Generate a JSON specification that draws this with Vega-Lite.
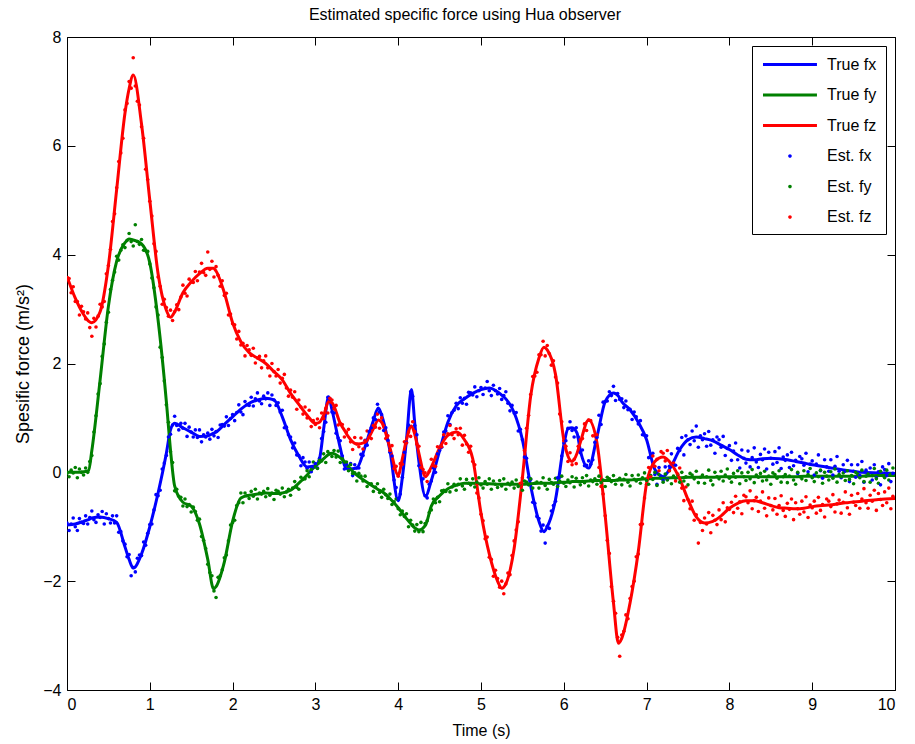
{
  "$schema": "https://vega.github.io/schema/vega-lite/v6.json",
  "width": 828,
  "height": 653,
  "autosize": {"type": "none"},
  "padding": {"left": 67, "top": 37, "right": 20, "bottom": 54},
  "background": "white",
  "title": {"text": "Estimated specific force using Hua observer", "font": "Liberation Sans", "fontSize": 16, "fontWeight": "normal", "color": "black", "offset": 6, "dx": -16},
  "config": {
    "view": {"stroke": "black", "strokeWidth": 1},
    "axis": {"grid": false, "domain": false, "tickColor": "black", "tickSize": -8, "tickWidth": 1, "labelFont": "Liberation Sans", "labelFontSize": 16, "labelColor": "black", "titleFont": "Liberation Sans", "titleFontWeight": "normal", "titleColor": "black"}
  },
  "datasets": {
    "truth": [
      {"t":0.0,"fx":-0.97,"fy":0.0,"fz":3.6},{"t":0.1,"fx":-0.95,"fy":0.0,"fz":3.2},{"t":0.2,"fx":-0.9,"fy":0.01,"fz":2.9},{"t":0.26,"fx":-0.87,"fy":0.03,"fz":2.78},{"t":0.3,"fx":-0.84,"fy":0.4,"fz":2.75},{"t":0.4,"fx":-0.82,"fy":1.7,"fz":2.95},{"t":0.5,"fx":-0.85,"fy":3.05,"fz":3.8},{"t":0.6,"fx":-0.92,"fy":3.88,"fz":5.2},{"t":0.7,"fx":-1.37,"fy":4.22,"fz":6.6},{"t":0.75,"fx":-1.6,"fy":4.29,"fz":7.05},{"t":0.8,"fx":-1.76,"fy":4.27,"fz":7.3},{"t":0.9,"fx":-1.5,"fy":4.2,"fz":6.4},
      {"t":1.0,"fx":-1.0,"fy":3.85,"fz":5.0},{"t":1.1,"fx":-0.38,"fy":2.8,"fz":3.65},{"t":1.2,"fx":0.35,"fy":1.3,"fz":2.98},{"t":1.25,"fx":0.78,"fy":0.41,"fz":2.85},{"t":1.3,"fx":0.9,"fy":-0.25,"fz":2.95},{"t":1.4,"fx":0.82,"fy":-0.55,"fz":3.3},{"t":1.5,"fx":0.74,"fy":-0.62,"fz":3.5},{"t":1.6,"fx":0.66,"fy":-0.95,"fz":3.65},{"t":1.7,"fx":0.67,"fy":-1.6,"fz":3.75},{"t":1.77,"fx":0.72,"fy":-2.14,"fz":3.75},{"t":1.8,"fx":0.74,"fy":-2.1,"fz":3.7},{"t":1.9,"fx":0.88,"fy":-1.65,"fz":3.3},
      {"t":2.0,"fx":1.02,"fy":-0.9,"fz":2.75},{"t":2.1,"fx":1.16,"fy":-0.47,"fz":2.4},{"t":2.2,"fx":1.27,"fy":-0.42,"fz":2.2},{"t":2.3,"fx":1.33,"fy":-0.4,"fz":2.1},{"t":2.4,"fx":1.36,"fy":-0.38,"fz":2.0},{"t":2.5,"fx":1.33,"fy":-0.39,"fz":1.85},{"t":2.6,"fx":1.02,"fy":-0.38,"fz":1.7},{"t":2.7,"fx":0.6,"fy":-0.33,"fz":1.45},{"t":2.8,"fx":0.3,"fy":-0.2,"fz":1.25},{"t":2.9,"fx":0.1,"fy":-0.05,"fz":1.05},
      {"t":3.0,"fx":0.12,"fy":0.12,"fz":0.9},{"t":3.05,"fx":0.25,"fy":0.18,"fz":0.92},{"t":3.1,"fx":0.8,"fy":0.25,"fz":1.05},{"t":3.16,"fx":1.39,"fy":0.33,"fz":1.3},{"t":3.2,"fx":1.15,"fy":0.35,"fz":1.28},{"t":3.3,"fx":0.45,"fy":0.27,"fz":0.9},{"t":3.36,"fx":0.1,"fy":0.18,"fz":0.75},{"t":3.4,"fx":0.06,"fy":0.1,"fz":0.65},{"t":3.5,"fx":0.08,"fy":-0.05,"fz":0.52},{"t":3.6,"fx":0.47,"fy":-0.16,"fz":0.55},{"t":3.7,"fx":0.95,"fy":-0.26,"fz":0.8},{"t":3.76,"fx":1.18,"fy":-0.32,"fz":0.96},{"t":3.8,"fx":1.05,"fy":-0.35,"fz":0.92},{"t":3.9,"fx":0.4,"fy":-0.48,"fz":0.45},
      {"t":4.0,"fx":-0.52,"fy":-0.65,"fz":-0.05},{"t":4.05,"fx":-0.1,"fy":-0.75,"fz":0.25},{"t":4.1,"fx":0.6,"fy":-0.85,"fz":0.6},{"t":4.16,"fx":1.52,"fy":-0.96,"fz":0.85},{"t":4.2,"fx":0.9,"fy":-1.02,"fz":0.7},{"t":4.25,"fx":0.2,"fy":-1.06,"fz":0.35},{"t":4.33,"fx":-0.44,"fy":-0.97,"fz":-0.08},{"t":4.4,"fx":-0.15,"fy":-0.62,"fz":0.1},{"t":4.5,"fx":0.4,"fy":-0.43,"fz":0.45},{"t":4.6,"fx":0.92,"fy":-0.3,"fz":0.68},{"t":4.7,"fx":1.22,"fy":-0.24,"fz":0.74},{"t":4.8,"fx":1.35,"fy":-0.2,"fz":0.6},{"t":4.9,"fx":1.45,"fy":-0.2,"fz":0.25},
      {"t":5.0,"fx":1.52,"fy":-0.21,"fz":-0.75},{"t":5.1,"fx":1.55,"fy":-0.21,"fz":-1.5},{"t":5.2,"fx":1.48,"fy":-0.22,"fz":-2.0},{"t":5.25,"fx":1.42,"fy":-0.22,"fz":-2.13},{"t":5.3,"fx":1.35,"fy":-0.22,"fz":-2.05},{"t":5.4,"fx":1.1,"fy":-0.22,"fz":-1.4},{"t":5.5,"fx":0.6,"fy":-0.22,"fz":-0.1},{"t":5.6,"fx":-0.25,"fy":-0.21,"fz":1.4},{"t":5.7,"fx":-0.9,"fy":-0.2,"fz":2.1},{"t":5.76,"fx":-1.09,"fy":-0.2,"fz":2.3},{"t":5.8,"fx":-1.0,"fy":-0.2,"fz":2.25},{"t":5.9,"fx":-0.5,"fy":-0.19,"fz":1.8},
      {"t":6.0,"fx":0.5,"fy":-0.18,"fz":0.6},{"t":6.05,"fx":0.8,"fy":-0.18,"fz":0.3},{"t":6.1,"fx":0.82,"fy":-0.17,"fz":0.2},{"t":6.16,"fx":0.72,"fy":-0.17,"fz":0.35},{"t":6.2,"fx":0.4,"fy":-0.17,"fz":0.55},{"t":6.3,"fx":0.08,"fy":-0.16,"fz":0.96},{"t":6.4,"fx":0.65,"fy":-0.15,"fz":0.55},{"t":6.5,"fx":1.3,"fy":-0.15,"fz":-0.8},{"t":6.6,"fx":1.46,"fy":-0.15,"fz":-2.4},{"t":6.66,"fx":1.4,"fy":-0.14,"fz":-3.14},{"t":6.7,"fx":1.3,"fy":-0.14,"fz":-3.05},{"t":6.8,"fx":1.15,"fy":-0.14,"fz":-2.4},{"t":6.9,"fx":0.92,"fy":-0.13,"fz":-1.45},
      {"t":7.0,"fx":0.6,"fy":-0.12,"fz":-0.2},{"t":7.1,"fx":0.05,"fy":-0.11,"fz":0.2},{"t":7.2,"fx":-0.08,"fy":-0.11,"fz":0.28},{"t":7.3,"fx":0.12,"fy":-0.1,"fz":0.15},{"t":7.4,"fx":0.42,"fy":-0.1,"fz":-0.12},{"t":7.5,"fx":0.6,"fy":-0.09,"fz":-0.5},{"t":7.6,"fx":0.65,"fy":-0.09,"fz":-0.82},{"t":7.7,"fx":0.62,"fy":-0.09,"fz":-0.93},{"t":7.8,"fx":0.58,"fy":-0.09,"fz":-0.9},{"t":7.9,"fx":0.5,"fy":-0.08,"fz":-0.8},
      {"t":8.0,"fx":0.42,"fy":-0.08,"fz":-0.66},{"t":8.1,"fx":0.32,"fy":-0.08,"fz":-0.57},{"t":8.2,"fx":0.24,"fy":-0.08,"fz":-0.52},{"t":8.3,"fx":0.23,"fy":-0.08,"fz":-0.52},{"t":8.4,"fx":0.25,"fy":-0.08,"fz":-0.56},{"t":8.5,"fx":0.26,"fy":-0.08,"fz":-0.61},{"t":8.6,"fx":0.25,"fy":-0.08,"fz":-0.65},{"t":8.7,"fx":0.23,"fy":-0.08,"fz":-0.66},{"t":8.8,"fx":0.2,"fy":-0.08,"fz":-0.67},{"t":8.9,"fx":0.17,"fy":-0.07,"fz":-0.66},
      {"t":9.0,"fx":0.14,"fy":-0.07,"fz":-0.63},{"t":9.2,"fx":0.09,"fy":-0.07,"fz":-0.6},{"t":9.4,"fx":0.04,"fy":-0.07,"fz":-0.56},{"t":9.6,"fx":0.0,"fy":-0.07,"fz":-0.53},{"t":9.8,"fx":-0.01,"fy":-0.06,"fz":-0.5},{"t":10.0,"fx":-0.02,"fy":-0.06,"fz":-0.48}
    ],
    "est": [
      {"t":0.0,"ex":-0.93,"ey":-0.02,"ez":3.58},{"t":0.025,"ex":-1.07,"ey":-0.08,"ez":3.56},{"t":0.05,"ex":-0.95,"ey":0.04,"ez":3.3},{"t":0.075,"ex":-0.84,"ey":-0.01,"ez":3.41},{"t":0.1,"ex":-1.0,"ey":0.09,"ez":3.14},{"t":0.125,"ex":-1.07,"ey":-0.1,"ez":3.14},{"t":0.15,"ex":-0.85,"ey":0.06,"ez":2.89},{"t":0.175,"ex":-0.92,"ey":0.0,"ez":3.05},{"t":0.2,"ex":-0.94,"ey":-0.05,"ez":2.95},{"t":0.225,"ex":-0.8,"ey":0.08,"ez":2.82},
      {"t":0.25,"ex":-0.95,"ey":0.0,"ez":2.93},{"t":0.275,"ex":-0.83,"ey":0.2,"ez":2.66},{"t":0.3,"ex":-0.71,"ey":0.31,"ez":2.5},{"t":0.325,"ex":-0.87,"ey":0.74,"ez":2.83},{"t":0.35,"ex":-0.92,"ey":1.04,"ez":2.67},{"t":0.375,"ex":-0.78,"ey":1.44,"ez":2.87},{"t":0.4,"ex":-0.83,"ey":1.63,"ez":3.09},{"t":0.425,"ex":-0.72,"ey":2.13,"ez":3.04},{"t":0.45,"ex":-0.95,"ey":2.36,"ez":3.14},{"t":0.475,"ex":-0.76,"ey":2.76,"ez":3.65},
      {"t":0.5,"ex":-0.85,"ey":2.94,"ez":3.8},{"t":0.525,"ex":-0.93,"ey":3.36,"ez":4.1},{"t":0.55,"ex":-0.8,"ey":3.53,"ez":4.61},{"t":0.575,"ex":-0.93,"ey":3.68,"ez":4.75},{"t":0.6,"ex":-0.8,"ey":3.97,"ez":5.23},{"t":0.625,"ex":-1.1,"ey":3.9,"ez":5.71},{"t":0.65,"ex":-1.09,"ey":4.08,"ez":5.87},{"t":0.675,"ex":-1.26,"ey":4.18,"ez":6.14},{"t":0.7,"ex":-1.32,"ey":4.13,"ez":6.66},{"t":0.725,"ex":-1.55,"ey":4.26,"ez":6.78},
      {"t":0.75,"ex":-1.51,"ey":4.39,"ez":7.18},{"t":0.775,"ex":-1.9,"ey":4.24,"ez":7.06},{"t":0.8,"ex":-1.75,"ey":4.16,"ez":7.62},{"t":0.825,"ex":-1.83,"ey":4.55,"ez":7.1},{"t":0.85,"ex":-1.58,"ey":4.24,"ez":6.82},{"t":0.875,"ex":-1.52,"ey":4.19,"ez":6.75},{"t":0.9,"ex":-1.53,"ey":4.28,"ez":6.35},{"t":0.925,"ex":-1.28,"ey":4.08,"ez":6.14},{"t":0.95,"ex":-1.34,"ey":4.07,"ez":5.57},{"t":0.975,"ex":-1.12,"ey":4.06,"ez":5.38},
      {"t":1.0,"ex":-0.96,"ey":3.83,"ez":4.98},{"t":1.025,"ex":-0.95,"ey":3.57,"ez":4.71},{"t":1.05,"ex":-0.69,"ey":3.39,"ez":4.2},{"t":1.075,"ex":-0.41,"ey":3.04,"ez":4.06},{"t":1.1,"ex":-0.43,"ey":2.89,"ez":3.59},{"t":1.125,"ex":-0.33,"ey":2.3,"ez":3.42},{"t":1.15,"ex":0.06,"ey":2.11,"ez":3.09},{"t":1.175,"ex":0.17,"ey":1.68,"ez":3.18},{"t":1.2,"ex":0.31,"ey":1.24,"ez":3.03},{"t":1.225,"ex":0.65,"ey":0.92,"ez":2.87},
      {"t":1.25,"ex":0.7,"ey":0.38,"ez":2.98},{"t":1.275,"ex":0.87,"ey":0.18,"ez":2.79},{"t":1.3,"ex":1.03,"ey":-0.34,"ez":2.95},{"t":1.325,"ex":0.86,"ey":-0.31,"ez":3.08},{"t":1.35,"ex":0.78,"ey":-0.44,"ez":2.99},{"t":1.375,"ex":0.9,"ey":-0.46,"ez":3.22},{"t":1.4,"ex":0.81,"ey":-0.62,"ez":3.44},{"t":1.425,"ex":0.9,"ey":-0.49,"ez":3.29},{"t":1.45,"ex":0.66,"ey":-0.63,"ez":3.24},{"t":1.475,"ex":0.83,"ey":-0.59,"ez":3.55},
      {"t":1.5,"ex":0.74,"ey":-0.73,"ez":3.5},{"t":1.525,"ex":0.65,"ey":-0.64,"ez":3.49},{"t":1.55,"ex":0.78,"ey":-0.72,"ez":3.69},{"t":1.575,"ex":0.64,"ey":-0.88,"ez":3.52},{"t":1.6,"ex":0.78,"ey":-0.86,"ez":3.68},{"t":1.625,"ex":0.56,"ey":-1.18,"ez":3.84},{"t":1.65,"ex":0.69,"ey":-1.25,"ez":3.67},{"t":1.675,"ex":0.65,"ey":-1.4,"ez":3.62},{"t":1.7,"ex":0.72,"ey":-1.69,"ez":4.05},{"t":1.725,"ex":0.61,"ey":-1.84,"ez":3.73},
      {"t":1.75,"ex":0.79,"ey":-1.9,"ez":3.88},{"t":1.775,"ex":0.67,"ey":-2.18,"ez":3.59},{"t":1.8,"ex":0.75,"ey":-2.3,"ez":3.78},{"t":1.825,"ex":0.64,"ey":-1.93,"ez":3.62},{"t":1.85,"ex":0.87,"ey":-1.9,"ez":3.42},{"t":1.875,"ex":0.88,"ey":-1.79,"ez":3.52},{"t":1.9,"ex":0.85,"ey":-1.57,"ez":3.25},{"t":1.925,"ex":1.02,"ey":-1.52,"ez":3.29},{"t":1.95,"ex":0.86,"ey":-1.26,"ez":2.89},{"t":1.975,"ex":0.99,"ey":-0.97,"ez":2.91},
      {"t":2.0,"ex":1.06,"ey":-0.92,"ez":2.73},{"t":2.025,"ex":0.95,"ey":-0.88,"ez":2.71},{"t":2.05,"ex":1.1,"ey":-0.61,"ez":2.45},{"t":2.075,"ex":1.24,"ey":-0.56,"ez":2.59},{"t":2.1,"ex":1.11,"ey":-0.38,"ez":2.34},{"t":2.125,"ex":1.06,"ey":-0.56,"ez":2.37},{"t":2.15,"ex":1.3,"ey":-0.38,"ez":2.14},{"t":2.175,"ex":1.24,"ey":-0.43,"ez":2.33},{"t":2.2,"ex":1.23,"ey":-0.48,"ez":2.25},{"t":2.225,"ex":1.38,"ey":-0.35,"ez":2.15},
      {"t":2.25,"ex":1.22,"ey":-0.44,"ez":2.28},{"t":2.275,"ex":1.35,"ey":-0.31,"ez":2.01},{"t":2.3,"ex":1.46,"ey":-0.49,"ez":2.1},{"t":2.325,"ex":1.31,"ey":-0.38,"ez":2.13},{"t":2.35,"ex":1.26,"ey":-0.4,"ez":1.92},{"t":2.375,"ex":1.4,"ey":-0.35,"ez":2.05},{"t":2.4,"ex":1.35,"ey":-0.45,"ez":2.14},{"t":2.425,"ex":1.46,"ey":-0.3,"ez":1.92},{"t":2.45,"ex":1.23,"ey":-0.42,"ez":1.77},{"t":2.475,"ex":1.42,"ey":-0.38,"ez":2.0},
      {"t":2.5,"ex":1.33,"ey":-0.5,"ez":1.85},{"t":2.525,"ex":1.23,"ey":-0.33,"ez":1.77},{"t":2.55,"ex":1.28,"ey":-0.35,"ez":1.89},{"t":2.575,"ex":1.11,"ey":-0.4,"ez":1.64},{"t":2.6,"ex":1.14,"ey":-0.29,"ez":1.73},{"t":2.625,"ex":0.82,"ey":-0.45,"ez":1.8},{"t":2.65,"ex":0.83,"ey":-0.36,"ez":1.55},{"t":2.675,"ex":0.69,"ey":-0.31,"ez":1.4},{"t":2.7,"ex":0.65,"ey":-0.42,"ez":1.51},{"t":2.725,"ex":0.45,"ey":-0.29,"ez":1.38},
      {"t":2.75,"ex":0.54,"ey":-0.17,"ez":1.48},{"t":2.775,"ex":0.32,"ey":-0.28,"ez":1.16},{"t":2.8,"ex":0.31,"ey":-0.31,"ez":1.33},{"t":2.825,"ex":0.12,"ey":-0.09,"ez":1.2},{"t":2.85,"ex":0.27,"ey":-0.13,"ez":1.07},{"t":2.875,"ex":0.19,"ey":-0.12,"ez":1.2},{"t":2.9,"ex":0.07,"ey":0.03,"ez":1.0},{"t":2.925,"ex":0.19,"ey":-0.08,"ez":1.14},{"t":2.95,"ex":0.01,"ey":0.05,"ez":0.84},{"t":2.975,"ex":0.1,"ey":0.19,"ez":0.95},
      {"t":3.0,"ex":0.16,"ey":0.1,"ez":0.88},{"t":3.025,"ex":0.08,"ey":0.07,"ez":0.98},{"t":3.05,"ex":0.26,"ey":0.22,"ez":0.82},{"t":3.075,"ex":0.62,"ey":0.21,"ez":1.09},{"t":3.1,"ex":0.75,"ey":0.34,"ez":0.99},{"t":3.125,"ex":0.92,"ey":0.18,"ez":1.17},{"t":3.15,"ex":1.38,"ey":0.38,"ez":1.09},{"t":3.175,"ex":1.35,"ey":0.34,"ez":1.36},{"t":3.2,"ex":1.11,"ey":0.29,"ez":1.33},{"t":3.225,"ex":1.09,"ey":0.4,"ez":1.17},
      {"t":3.25,"ex":0.72,"ey":0.28,"ez":1.23},{"t":3.275,"ex":0.63,"ey":0.39,"ez":0.87},{"t":3.3,"ex":0.58,"ey":0.18,"ez":0.9},{"t":3.325,"ex":0.3,"ey":0.25,"ez":0.88},{"t":3.35,"ex":0.06,"ey":0.19,"ez":0.65},{"t":3.375,"ex":0.15,"ey":0.19,"ez":0.74},{"t":3.4,"ex":0.05,"ey":0.03,"ez":0.79},{"t":3.425,"ex":0.16,"ey":0.14,"ez":0.56},{"t":3.45,"ex":-0.06,"ey":-0.02,"ez":0.42},{"t":3.475,"ex":0.14,"ey":-0.01,"ez":0.64},
      {"t":3.5,"ex":0.08,"ey":-0.16,"ez":0.52},{"t":3.525,"ex":0.08,"ey":-0.02,"ez":0.47},{"t":3.55,"ex":0.33,"ey":-0.07,"ez":0.63},{"t":3.575,"ex":0.31,"ey":-0.16,"ez":0.43},{"t":3.6,"ex":0.59,"ey":-0.07,"ez":0.58},{"t":3.625,"ex":0.5,"ey":-0.26,"ez":0.76},{"t":3.65,"ex":0.75,"ey":-0.21,"ez":0.64},{"t":3.675,"ex":0.82,"ey":-0.21,"ez":0.62},{"t":3.7,"ex":1.0,"ey":-0.35,"ez":0.86},{"t":3.725,"ex":0.97,"ey":-0.27,"ez":0.83},
      {"t":3.75,"ex":1.25,"ey":-0.21,"ez":1.07},{"t":3.775,"ex":1.11,"ey":-0.37,"ez":0.81},{"t":3.8,"ex":1.06,"ey":-0.46,"ez":1.0},{"t":3.825,"ex":0.77,"ey":-0.31,"ez":0.85},{"t":3.85,"ex":0.82,"ey":-0.41,"ez":0.62},{"t":3.875,"ex":0.59,"ey":-0.48,"ez":0.67},{"t":3.9,"ex":0.37,"ey":-0.4,"ez":0.4},{"t":3.925,"ex":0.3,"ey":-0.59,"ez":0.49},{"t":3.95,"ex":-0.14,"ey":-0.54,"ez":0.07},{"t":3.975,"ex":-0.28,"ey":-0.49,"ez":0.11},
      {"t":4.0,"ex":-0.48,"ey":-0.67,"ez":-0.07},{"t":4.025,"ex":-0.4,"ey":-0.78,"ez":0.16},{"t":4.05,"ex":-0.09,"ey":-0.71,"ez":0.15},{"t":4.075,"ex":0.37,"ey":-0.81,"ez":0.56},{"t":4.1,"ex":0.55,"ey":-0.76,"ez":0.54},{"t":4.125,"ex":0.87,"ey":-1.0,"ez":0.74},{"t":4.15,"ex":1.48,"ey":-0.88,"ez":0.66},{"t":4.175,"ex":1.4,"ey":-0.97,"ez":0.93},{"t":4.2,"ex":0.86,"ey":-1.08,"ez":0.75},{"t":4.225,"ex":0.69,"ey":-0.96,"ez":0.52},
      {"t":4.25,"ex":0.12,"ey":-1.09,"ez":0.48},{"t":4.275,"ex":0.03,"ey":-0.92,"ez":0.09},{"t":4.3,"ex":-0.12,"ey":-1.09,"ez":0.05},{"t":4.325,"ex":-0.43,"ey":-0.94,"ez":-0.01},{"t":4.35,"ex":-0.47,"ey":-0.89,"ez":-0.17},{"t":4.375,"ex":-0.22,"ey":-0.74,"ez":0.02},{"t":4.4,"ex":-0.16,"ey":-0.69,"ez":0.24},{"t":4.425,"ex":0.08,"ey":-0.49,"ez":0.12},{"t":4.45,"ex":0.0,"ey":-0.56,"ez":0.11},{"t":4.475,"ex":0.34,"ey":-0.46,"ez":0.47},
      {"t":4.5,"ex":0.4,"ey":-0.54,"ez":0.45},{"t":4.525,"ex":0.46,"ey":-0.34,"ez":0.47},{"t":4.55,"ex":0.74,"ey":-0.33,"ez":0.69},{"t":4.575,"ex":0.76,"ey":-0.35,"ez":0.53},{"t":4.6,"ex":1.04,"ey":-0.21,"ez":0.71},{"t":4.625,"ex":0.88,"ey":-0.36,"ez":0.86},{"t":4.65,"ex":1.1,"ey":-0.27,"ez":0.69},{"t":4.675,"ex":1.14,"ey":-0.22,"ez":0.62},{"t":4.7,"ex":1.27,"ey":-0.33,"ez":0.8},{"t":4.725,"ex":1.17,"ey":-0.22,"ez":0.69},
      {"t":4.75,"ex":1.37,"ey":-0.12,"ez":0.81},{"t":4.775,"ex":1.27,"ey":-0.25,"ez":0.5},{"t":4.8,"ex":1.36,"ey":-0.31,"ez":0.68},{"t":4.825,"ex":1.25,"ey":-0.13,"ez":0.52},{"t":4.85,"ex":1.47,"ey":-0.2,"ez":0.37},{"t":4.875,"ex":1.46,"ey":-0.23,"ez":0.48},{"t":4.9,"ex":1.42,"ey":-0.12,"ez":0.2},{"t":4.925,"ex":1.57,"ey":-0.27,"ez":0.14},{"t":4.95,"ex":1.39,"ey":-0.18,"ez":-0.38},{"t":4.975,"ex":1.5,"ey":-0.1,"ez":-0.47},
      {"t":5.0,"ex":1.56,"ey":-0.23,"ez":-0.77},{"t":5.025,"ex":1.43,"ey":-0.29,"ez":-0.89},{"t":5.05,"ex":1.55,"ey":-0.17,"ez":-1.22},{"t":5.075,"ex":1.67,"ey":-0.22,"ez":-1.19},{"t":5.1,"ex":1.5,"ey":-0.12,"ez":-1.56},{"t":5.125,"ex":1.41,"ey":-0.31,"ez":-1.6},{"t":5.15,"ex":1.6,"ey":-0.16,"ez":-1.91},{"t":5.175,"ex":1.5,"ey":-0.22,"ez":-1.8},{"t":5.2,"ex":1.44,"ey":-0.28,"ez":-1.95},{"t":5.225,"ex":1.54,"ey":-0.15,"ez":-2.11},
      {"t":5.25,"ex":1.34,"ey":-0.25,"ez":-2.0},{"t":5.275,"ex":1.41,"ey":-0.12,"ez":-2.23},{"t":5.3,"ex":1.48,"ey":-0.31,"ez":-2.05},{"t":5.325,"ex":1.27,"ey":-0.2,"ez":-1.85},{"t":5.35,"ex":1.13,"ey":-0.23,"ez":-1.88},{"t":5.375,"ex":1.23,"ey":-0.18,"ez":-1.53},{"t":5.4,"ex":1.09,"ey":-0.29,"ez":-1.26},{"t":5.425,"ex":1.1,"ey":-0.14,"ez":-1.06},{"t":5.45,"ex":0.76,"ey":-0.26,"ez":-0.91},{"t":5.475,"ex":0.79,"ey":-0.21,"ez":-0.2},
      {"t":5.5,"ex":0.6,"ey":-0.33,"ez":-0.1},{"t":5.525,"ex":0.28,"ey":-0.16,"ez":0.4},{"t":5.55,"ex":0.26,"ey":-0.18,"ez":0.81},{"t":5.575,"ex":-0.09,"ey":-0.23,"ez":1.05},{"t":5.6,"ex":-0.13,"ey":-0.12,"ez":1.43},{"t":5.625,"ex":-0.55,"ey":-0.29,"ez":1.76},{"t":5.65,"ex":-0.57,"ey":-0.2,"ez":1.77},{"t":5.675,"ex":-0.81,"ey":-0.18,"ez":1.84},{"t":5.7,"ex":-0.85,"ey":-0.29,"ez":2.16},{"t":5.725,"ex":-1.08,"ey":-0.19,"ez":2.16},
      {"t":5.75,"ex":-0.97,"ey":-0.1,"ez":2.41},{"t":5.775,"ex":-1.3,"ey":-0.24,"ez":2.14},{"t":5.8,"ex":-0.99,"ey":-0.31,"ez":2.33},{"t":5.825,"ex":-1.03,"ey":-0.13,"ez":2.18},{"t":5.85,"ex":-0.71,"ey":-0.19,"ez":1.97},{"t":5.875,"ex":-0.61,"ey":-0.22,"ez":2.05},{"t":5.9,"ex":-0.53,"ey":-0.11,"ez":1.75},{"t":5.925,"ex":-0.1,"ey":-0.26,"ez":1.64},{"t":5.95,"ex":-0.09,"ey":-0.16,"ez":1.07},{"t":5.975,"ex":0.3,"ey":-0.07,"ez":0.93},
      {"t":6.0,"ex":0.54,"ey":-0.2,"ez":0.58},{"t":6.025,"ex":0.58,"ey":-0.26,"ez":0.48},{"t":6.05,"ex":0.81,"ey":-0.14,"ez":0.2},{"t":6.075,"ex":0.93,"ey":-0.19,"ez":0.36},{"t":6.1,"ex":0.77,"ey":-0.08,"ez":0.14},{"t":6.125,"ex":0.65,"ey":-0.27,"ez":0.24},{"t":6.15,"ex":0.82,"ey":-0.11,"ez":0.16},{"t":6.175,"ex":0.65,"ey":-0.17,"ez":0.48},{"t":6.2,"ex":0.36,"ey":-0.23,"ez":0.6},{"t":6.225,"ex":0.41,"ey":-0.1,"ez":0.62},
      {"t":6.25,"ex":0.12,"ey":-0.19,"ez":0.89},{"t":6.275,"ex":0.13,"ey":-0.06,"ez":0.77},{"t":6.3,"ex":0.21,"ey":-0.25,"ez":0.96},{"t":6.325,"ex":0.15,"ey":-0.14,"ez":0.95},{"t":6.35,"ex":0.23,"ey":-0.17,"ez":0.67},{"t":6.375,"ex":0.55,"ey":-0.12,"ez":0.67},{"t":6.4,"ex":0.64,"ey":-0.22,"ez":0.69},{"t":6.425,"ex":1.05,"ey":-0.07,"ez":0.09},{"t":6.45,"ex":0.88,"ey":-0.19,"ez":-0.26},{"t":6.475,"ex":1.29,"ey":-0.14,"ez":-0.4},
      {"t":6.5,"ex":1.3,"ey":-0.26,"ez":-0.8},{"t":6.525,"ex":1.31,"ey":-0.09,"ez":-1.25},{"t":6.55,"ex":1.48,"ey":-0.12,"ez":-1.49},{"t":6.575,"ex":1.41,"ey":-0.17,"ez":-2.1},{"t":6.6,"ex":1.58,"ey":-0.06,"ez":-2.37},{"t":6.625,"ex":1.32,"ey":-0.22,"ez":-2.59},{"t":6.65,"ex":1.45,"ey":-0.14,"ez":-3.03},{"t":6.675,"ex":1.34,"ey":-0.11,"ez":-3.38},{"t":6.7,"ex":1.35,"ey":-0.23,"ez":-2.99},{"t":6.725,"ex":1.19,"ey":-0.13,"ez":-2.92},
      {"t":6.75,"ex":1.31,"ey":-0.04,"ez":-2.62},{"t":6.775,"ex":1.15,"ey":-0.18,"ez":-2.69},{"t":6.8,"ex":1.16,"ey":-0.25,"ez":-2.32},{"t":6.825,"ex":0.97,"ey":-0.06,"ez":-2.1},{"t":6.85,"ex":1.11,"ey":-0.13,"ez":-2.0},{"t":6.875,"ex":1.02,"ey":-0.16,"ez":-1.55},{"t":6.9,"ex":0.89,"ey":-0.05,"ez":-1.5},{"t":6.925,"ex":0.95,"ey":-0.2,"ez":-0.96},{"t":6.95,"ex":0.69,"ey":-0.1,"ez":-0.95},{"t":6.975,"ex":0.68,"ey":-0.01,"ez":-0.47},
      {"t":7.0,"ex":0.67,"ey":-0.15,"ez":-0.22},{"t":7.025,"ex":0.27,"ey":-0.22,"ez":0.09},{"t":7.05,"ex":0.32,"ey":-0.06,"ez":-0.08},{"t":7.075,"ex":0.35,"ey":-0.13,"ez":0.3},{"t":7.1,"ex":-0.04,"ey":0.0,"ez":0.11},{"t":7.125,"ex":-0.22,"ey":-0.24,"ez":0.24},{"t":7.15,"ex":0.09,"ey":-0.04,"ez":0.03},{"t":7.175,"ex":-0.07,"ey":-0.11,"ez":0.38},{"t":7.2,"ex":-0.15,"ey":-0.18,"ez":0.35},{"t":7.225,"ex":0.1,"ey":-0.03,"ez":0.21},
      {"t":7.25,"ex":-0.13,"ey":-0.14,"ez":0.4},{"t":7.275,"ex":0.11,"ey":0.03,"ez":0.03},{"t":7.3,"ex":0.34,"ey":-0.21,"ez":0.15},{"t":7.325,"ex":0.16,"ey":-0.07,"ez":0.17},{"t":7.35,"ex":0.13,"ey":-0.11,"ez":-0.16},{"t":7.375,"ex":0.44,"ey":-0.04,"ez":-0.03},{"t":7.4,"ex":0.4,"ey":-0.18,"ez":0.08},{"t":7.425,"ex":0.64,"ey":0.0,"ez":-0.29},{"t":7.45,"ex":0.32,"ey":-0.16,"ez":-0.52},{"t":7.475,"ex":0.67,"ey":-0.08,"ez":-0.27},
      {"t":7.5,"ex":0.6,"ey":-0.23,"ez":-0.5},{"t":7.525,"ex":0.51,"ey":-0.02,"ez":-0.67},{"t":7.55,"ex":0.76,"ey":-0.05,"ez":-0.53},{"t":7.575,"ex":0.58,"ey":-0.12,"ez":-0.88},{"t":7.6,"ex":0.85,"ey":0.02,"ez":-0.78},{"t":7.625,"ex":0.46,"ey":-0.19,"ez":-1.3},{"t":7.65,"ex":0.67,"ey":-0.09,"ez":-0.92},{"t":7.675,"ex":0.6,"ey":-0.05,"ez":-1.07},{"t":7.7,"ex":0.71,"ey":-0.2,"ez":-0.84},{"t":7.725,"ex":0.48,"ey":-0.08,"ez":-0.95},
      {"t":7.75,"ex":0.75,"ey":0.04,"ez":-0.74},{"t":7.775,"ex":0.5,"ey":-0.15,"ez":-1.11},{"t":7.8,"ex":0.6,"ey":-0.23,"ez":-0.79},{"t":7.825,"ex":0.35,"ey":0.0,"ez":-0.88},{"t":7.85,"ex":0.65,"ey":-0.08,"ez":-0.96},{"t":7.875,"ex":0.6,"ey":-0.12,"ez":-0.69},{"t":7.9,"ex":0.46,"ey":0.02,"ez":-0.87},{"t":7.925,"ex":0.66,"ey":-0.16,"ez":-0.56},{"t":7.95,"ex":0.31,"ey":-0.05,"ez":-0.91},{"t":7.975,"ex":0.44,"ey":0.06,"ez":-0.65},
      {"t":8.0,"ex":0.49,"ey":-0.11,"ez":-0.68},{"t":8.025,"ex":0.22,"ey":-0.18,"ez":-0.55},{"t":8.05,"ex":0.39,"ey":-0.02,"ez":-0.74},{"t":8.075,"ex":0.54,"ey":-0.09,"ez":-0.44},{"t":8.1,"ex":0.23,"ey":0.03,"ez":-0.66},{"t":8.125,"ex":0.08,"ey":-0.21,"ez":-0.54},{"t":8.15,"ex":0.41,"ey":-0.01,"ez":-0.76},{"t":8.175,"ex":0.26,"ey":-0.08,"ez":-0.42},{"t":8.2,"ex":0.17,"ey":-0.15,"ez":-0.45},{"t":8.225,"ex":0.39,"ey":0.0,"ez":-0.56},
      {"t":8.25,"ex":0.1,"ey":-0.12,"ez":-0.34},{"t":8.275,"ex":0.27,"ey":0.05,"ez":-0.67},{"t":8.3,"ex":0.45,"ey":-0.19,"ez":-0.52},{"t":8.325,"ex":0.19,"ey":-0.05,"ez":-0.46},{"t":8.35,"ex":0.09,"ey":-0.09,"ez":-0.72},{"t":8.375,"ex":0.33,"ey":-0.02,"ez":-0.53},{"t":8.4,"ex":0.23,"ey":-0.16,"ez":-0.36},{"t":8.425,"ex":0.43,"ey":0.02,"ez":-0.66},{"t":8.45,"ex":0.06,"ey":-0.14,"ez":-0.8},{"t":8.475,"ex":0.37,"ey":-0.07,"ez":-0.47},
      {"t":8.5,"ex":0.26,"ey":-0.22,"ez":-0.61},{"t":8.525,"ex":0.15,"ey":-0.01,"ez":-0.69},{"t":8.55,"ex":0.38,"ey":-0.04,"ez":-0.48},{"t":8.575,"ex":0.18,"ey":-0.11,"ez":-0.77},{"t":8.6,"ex":0.45,"ey":0.03,"ez":-0.61},{"t":8.625,"ex":0.07,"ey":-0.18,"ez":-0.43},{"t":8.65,"ex":0.28,"ey":-0.08,"ez":-0.7},{"t":8.675,"ex":0.22,"ey":-0.04,"ez":-0.81},{"t":8.7,"ex":0.32,"ey":-0.19,"ez":-0.57},{"t":8.725,"ex":0.09,"ey":-0.07,"ez":-0.68},
      {"t":8.75,"ex":0.37,"ey":0.05,"ez":-0.49},{"t":8.775,"ex":0.12,"ey":-0.14,"ez":-0.87},{"t":8.8,"ex":0.22,"ey":-0.22,"ez":-0.56},{"t":8.825,"ex":-0.02,"ey":0.0,"ez":-0.67},{"t":8.85,"ex":0.29,"ey":-0.08,"ez":-0.77},{"t":8.875,"ex":0.25,"ey":-0.12,"ez":-0.53},{"t":8.9,"ex":0.13,"ey":0.03,"ez":-0.73},{"t":8.925,"ex":0.35,"ey":-0.15,"ez":-0.45},{"t":8.95,"ex":0.01,"ey":-0.04,"ez":-0.83},{"t":8.975,"ex":0.15,"ey":0.07,"ez":-0.6},
      {"t":9.0,"ex":0.21,"ey":-0.1,"ez":-0.65},{"t":9.025,"ex":-0.05,"ey":-0.17,"ez":-0.53},{"t":9.05,"ex":0.15,"ey":-0.01,"ez":-0.75},{"t":9.075,"ex":0.32,"ey":-0.08,"ez":-0.46},{"t":9.1,"ex":0.03,"ey":0.04,"ez":-0.7},{"t":9.125,"ex":-0.11,"ey":-0.2,"ez":-0.59},{"t":9.15,"ex":0.23,"ey":0.0,"ez":-0.82},{"t":9.175,"ex":0.1,"ey":-0.07,"ez":-0.49},{"t":9.2,"ex":0.02,"ey":-0.14,"ez":-0.53},{"t":9.225,"ex":0.23,"ey":0.01,"ez":-0.63},
      {"t":9.25,"ex":-0.05,"ey":-0.11,"ez":-0.41},{"t":9.275,"ex":0.11,"ey":0.06,"ez":-0.73},{"t":9.3,"ex":0.29,"ey":-0.18,"ez":-0.58},{"t":9.325,"ex":0.02,"ey":-0.04,"ez":-0.51},{"t":9.35,"ex":-0.1,"ey":-0.08,"ez":-0.75},{"t":9.375,"ex":0.14,"ey":-0.01,"ez":-0.55},{"t":9.4,"ex":0.02,"ey":-0.15,"ez":-0.36},{"t":9.425,"ex":0.22,"ey":0.03,"ez":-0.65},{"t":9.45,"ex":-0.17,"ey":-0.13,"ez":-0.77},{"t":9.475,"ex":0.14,"ey":-0.06,"ez":-0.42},
      {"t":9.5,"ex":0.02,"ey":-0.21,"ez":-0.55},{"t":9.525,"ex":-0.09,"ey":0.0,"ez":-0.61},{"t":9.55,"ex":0.14,"ey":-0.03,"ez":-0.39},{"t":9.575,"ex":-0.06,"ey":-0.1,"ez":-0.66},{"t":9.6,"ex":0.2,"ey":0.04,"ez":-0.49},{"t":9.625,"ex":-0.18,"ey":-0.17,"ez":-0.3},{"t":9.65,"ex":0.04,"ey":-0.07,"ez":-0.56},{"t":9.675,"ex":-0.03,"ey":-0.03,"ez":-0.66},{"t":9.7,"ex":0.08,"ey":-0.18,"ez":-0.42},{"t":9.725,"ex":-0.14,"ey":-0.06,"ez":-0.53},
      {"t":9.75,"ex":0.14,"ey":0.07,"ez":-0.33},{"t":9.775,"ex":-0.1,"ey":-0.12,"ez":-0.7},{"t":9.8,"ex":0.01,"ey":-0.2,"ez":-0.39},{"t":9.825,"ex":-0.23,"ey":0.02,"ez":-0.5},{"t":9.85,"ex":0.1,"ey":-0.06,"ez":-0.61},{"t":9.875,"ex":0.05,"ey":-0.1,"ez":-0.36},{"t":9.9,"ex":-0.06,"ey":0.04,"ez":-0.56},{"t":9.925,"ex":0.16,"ey":-0.14,"ez":-0.29},{"t":9.95,"ex":-0.17,"ey":-0.03,"ez":-0.67},{"t":9.975,"ex":-0.02,"ey":0.08,"ez":-0.44}
    ]
  },
  "encoding": {
    "color": {"field": "series", "type": "nominal",
      "scale": {"domain": ["fx","fy","fz","ex","ey","ez"], "range": ["#0000ff","#008000","#ff0000","#0000ff","#008000","#ff0000"]},
      "legend": {
        "title": null, "orient": "top-right", "offset": 9,
        "fillColor": "white", "strokeColor": "black", "padding": 9,
        "labelFont": "Liberation Sans", "labelFontSize": 16, "labelColor": "black",
        "labelExpr": "datum.label === 'fx' ? 'True fx' : datum.label === 'fy' ? 'True fy' : datum.label === 'fz' ? 'True fz' : datum.label === 'ex' ? 'Est. fx' : datum.label === 'ey' ? 'Est. fy' : 'Est. fz'",
        "symbolSize": 361, "symbolStrokeWidth": 0, "labelOffset": 47, "rowPadding": 12.5,
        "encode": {"symbols": {"update": {
          "shape": {"signal": "(datum.value === 'fx' || datum.value === 'fy' || datum.value === 'fz') ? 'M-0.79,-0.16H4.89V0.16H-0.79Z' : 'M2.05,-0.19A0.19,0.19 0 1,1 2.05,0.19A0.19,0.19 0 1,1 2.05,-0.19Z'"},
          "fill": {"scale": "color", "field": "value"},
          "stroke": {"value": "transparent"},
          "opacity": {"value": 1}
        }}}
      }
    }
  },
  "layer": [
    {
      "data": {"name": "truth"},
      "transform": [{"fold": ["fx", "fy", "fz"], "as": ["series", "v"]}],
      "mark": {"type": "line", "strokeWidth": 3, "interpolate": "monotone", "clip": true},
      "encoding": {
        "x": {"field": "t", "type": "quantitative", "scale": {"domain": [0, 10], "nice": false, "zero": false},
              "axis": {"orient": "bottom", "values": [0,1,2,3,4,5,6,7,8,9,10], "title": "Time (s)", "titleFontSize": 16, "labelPadding": 14, "titlePadding": 10}},
        "y": {"field": "v", "type": "quantitative", "scale": {"domain": [-4, 8], "nice": false, "zero": false},
              "axis": {"orient": "left", "values": [-4,-2,0,2,4,6,8], "title": "Spesific force (m/s²)", "titleFontSize": 18, "labelPadding": 14, "titlePadding": 10}}
      }
    },
    {
      "data": {"name": "est"},
      "transform": [{"fold": ["ex", "ey", "ez"], "as": ["series", "v"]}],
      "mark": {"type": "point", "filled": true, "size": 13, "opacity": 1, "clip": true},
      "encoding": {
        "x": {"field": "t", "type": "quantitative", "axis": {"orient": "top", "values": [0,1,2,3,4,5,6,7,8,9,10], "labels": false, "title": null}},
        "y": {"field": "v", "type": "quantitative", "axis": {"orient": "right", "values": [-4,-2,0,2,4,6,8], "labels": false, "title": null}}
      }
    }
  ],
  "resolve": {"axis": {"x": "independent", "y": "independent"}}
}
